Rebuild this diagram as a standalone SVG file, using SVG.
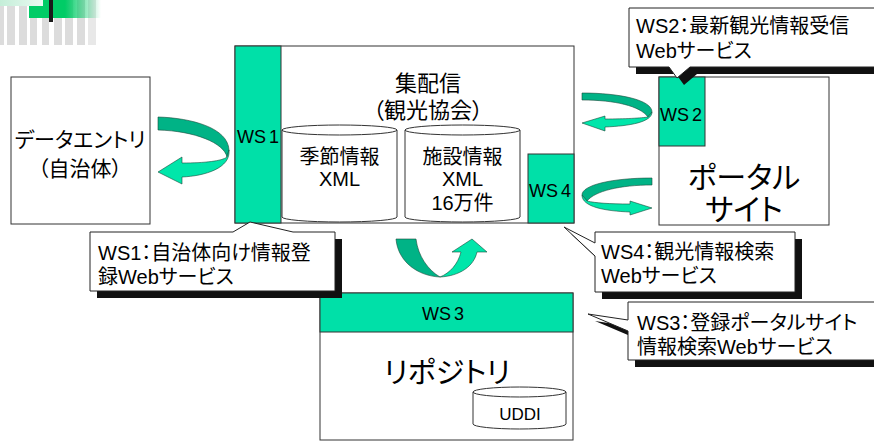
<svg xmlns="http://www.w3.org/2000/svg" width="874" height="441" viewBox="0 0 874 441">
<style>
text{font-family:"Liberation Sans","Noto Sans CJK JP",sans-serif;fill:#000;font-feature-settings:"palt"}
.box{fill:#fff;stroke:#333;stroke-width:1}
.ws{fill:#00E0A8;stroke:#333;stroke-width:1}
.cyl{fill:#fff;stroke:#333;stroke-width:1}
.dk{fill:#00B386;stroke:#1a4a3a;stroke-width:0.6}
.lt{fill:#00E6AA;stroke:#1a4a3a;stroke-width:0.6}
.co{fill:#fff;stroke:#222;stroke-width:1}
.sh{fill:#111}
.ct{font-size:20px}
.wst{font-size:18px}
.c{text-anchor:middle}
</style>
<defs>
<linearGradient id="gfade" x1="0" y1="0" x2="1" y2="0">
<stop offset="0" stop-color="#00CC66"/>
<stop offset="0.5" stop-color="#00CC66"/>
<stop offset="1" stop-color="#00CC66" stop-opacity="0"/>
</linearGradient>
<linearGradient id="gtop" x1="0" y1="0" x2="1" y2="0">
<stop offset="0" stop-color="#c4eed8"/>
<stop offset="1" stop-color="#eafaf2"/>
</linearGradient>
</defs>

<g id="decoration">
<g fill="#DCDCDC">
<rect x="0" y="0" width="4" height="45"/>
<rect x="7" y="0" width="8" height="45"/>
<rect x="19" y="0" width="8" height="45"/>
<rect x="30" y="0" width="7" height="45"/>
<rect x="42" y="0" width="7" height="45"/>
<rect x="54" y="0" width="8" height="45"/>
<rect x="65" y="0" width="8" height="45"/>
<rect x="77" y="0" width="8" height="45"/>
<rect x="88" y="0" width="8" height="45" fill="#E8E8E8"/>
</g>
<rect x="29" y="0" width="72" height="18" fill="url(#gfade)"/>
<rect x="0" y="0" width="43" height="6" fill="url(#gtop)"/>
<rect x="49" y="0" width="4" height="22" fill="#1a1a1a"/>
</g>

<g id="data-entry">
<rect class="box" x="11" y="77" width="139" height="147"/>
<text x="80" y="147" font-size="21" class="c">データエントリ</text>
<text x="80" y="176" font-size="21" class="c">（自治体）</text>
</g>

<g id="shuhaishin">
<rect class="box" x="235" y="46" width="339" height="177"/>
<text x="428" y="91" font-size="22" class="c">集配信</text>
<text x="428" y="118" font-size="22" class="c">（観光協会）</text>
</g>

<g id="ws1">
<rect class="ws" x="235" y="46" width="46" height="177"/>
<text x="237" y="143" class="wst">WS<tspan dx="3">1</tspan></text>
</g>

<g id="seasonal-xml">
<path class="cyl" d="M282,130 L282,217 A57.5,5 0 0 0 397,217 L397,130"/>
<ellipse class="cyl" cx="339.5" cy="130" rx="57.5" ry="5"/>
<text x="339.5" y="164" font-size="20" class="c">季節情報</text>
<text x="339.5" y="186" font-size="20" class="c">XML</text>
</g>

<g id="facility-xml">
<path class="cyl" d="M405,130 L405,217 A57.5,5 0 0 0 520,217 L520,130"/>
<ellipse class="cyl" cx="462.5" cy="130" rx="57.5" ry="5"/>
<text x="462.5" y="164" font-size="20" class="c">施設情報</text>
<text x="462.5" y="186" font-size="20" class="c">XML</text>
<text x="462.5" y="210" font-size="20" class="c">16万件</text>
</g>

<g id="ws4">
<rect class="ws" x="528" y="154" width="46" height="69"/>
<text x="529" y="197" class="wst">WS<tspan dx="3">4</tspan></text>
</g>

<g id="portal">
<rect class="box" x="659" y="77" width="170" height="148" stroke="#000"/>
<text x="744" y="188" font-size="30" class="c">ポータル</text>
<text x="744" y="220" font-size="30" class="c">サイト</text>
</g>

<g id="ws2">
<rect class="ws" x="659" y="77" width="46" height="69"/>
<text x="660" y="121" class="wst">WS<tspan dx="3">2</tspan></text>
</g>

<g id="repository">
<rect class="box" x="320" y="293" width="253" height="147"/>
<text x="447" y="383" font-size="29" class="c">リポジトリ</text>
</g>

<g id="ws3">
<rect class="ws" x="320" y="293" width="253" height="39"/>
<text x="443" y="320" class="wst c">WS<tspan dx="3">3</tspan></text>
</g>

<g id="uddi">
<path class="cyl" d="M473,392 L473,424 A46.5,5 0 0 0 566,424 L566,392"/>
<ellipse class="cyl" cx="519.5" cy="392" rx="46.5" ry="5"/>
<text x="520" y="420" font-size="17" class="c">UDDI</text>
</g>

<g id="connectors">
<g id="arrow-dataentry-ws1">
<path class="dk" d="M158,117 C192,118 228,128 229,150 L227,157 C224,143 195,131 158,130 Z"/>
<path class="lt" d="M229,150 C231,168 205,176 182,177 L182,184 L158,172 L182,157 L182,163 C205,163 222,161 227,157 Z"/>
</g>
<g id="arrow-main-ws2">
<path class="dk" d="M582,93 C620,93 652,100 652,112 L648,117 C640,106 615,100 582,100 Z"/>
<path class="lt" d="M652,112 C652,122 630,126 605,127 L605,131 L582,123 L605,116 L605,119 C625,119 642,118 648,117 Z"/>
</g>
<g id="arrow-ws4-portal">
<path class="dk" d="M652,178 C612,178 582,185 582,195 L587,201 C595,191 620,185 652,185 Z"/>
<path class="lt" d="M582,195 C582,207 605,211 630,212 L630,215 L652,208 L630,201 L630,204 C610,204 595,203 587,201 Z"/>
</g>
<g id="arrow-main-repository">
<path class="dk" d="M396,239 L416,239 C418,256 428,270 440,277 C418,276 398,262 396,239 Z"/>
<path class="lt" d="M440,277 C460,276 474,266 477,252 L487,252 L472,239 L452,252 L461,252 C458,264 450,273 440,277 Z"/>
</g>
</g>

<g id="callout-ws1">
<path class="sh" transform="translate(7,7)" d="M90,232 L233,232 L250,222 L293,232 L335,232 L335,291 L90,291 Z"/>
<path class="co" d="M90,232 L233,232 L250,222 L293,232 L335,232 L335,291 L90,291 Z"/>
<text x="98" y="260" class="ct">WS1：自治体向け情報登</text>
<text x="98" y="284" class="ct">録Webサービス</text>
</g>

<g id="callout-ws2">
<path class="sh" transform="translate(7,7)" d="M629,8 L880,8 L880,67 L690,67 L677,78 L669,67 L629,67 Z"/>
<path class="co" d="M629,8 L880,8 L880,67 L690,67 L677,78 L669,67 L629,67 Z"/>
<text x="636" y="33" class="ct">WS2：最新観光情報受信</text>
<text x="636" y="58" class="ct">Webサービス</text>
</g>

<g id="callout-ws4">
<path class="sh" transform="translate(7,7)" d="M595,232 L795,232 L795,292 L595,292 L595,256 L564,227 L595,243 Z"/>
<path class="co" d="M595,232 L795,232 L795,292 L595,292 L595,256 L564,227 L595,243 Z"/>
<text x="601" y="259" class="ct">WS4：観光情報検索</text>
<text x="601" y="283" class="ct">Webサービス</text>
</g>

<g id="callout-ws3">
<path class="sh" transform="translate(7,7)" d="M628,302 L880,302 L880,360 L628,360 L628,331 L588,314 L628,320 Z"/>
<path class="co" d="M628,302 L880,302 L880,360 L628,360 L628,331 L588,314 L628,320 Z"/>
<text x="637" y="330" class="ct">WS3：登録ポータルサイト</text>
<text x="637" y="354" class="ct">情報検索Webサービス</text>
</g>
</svg>
